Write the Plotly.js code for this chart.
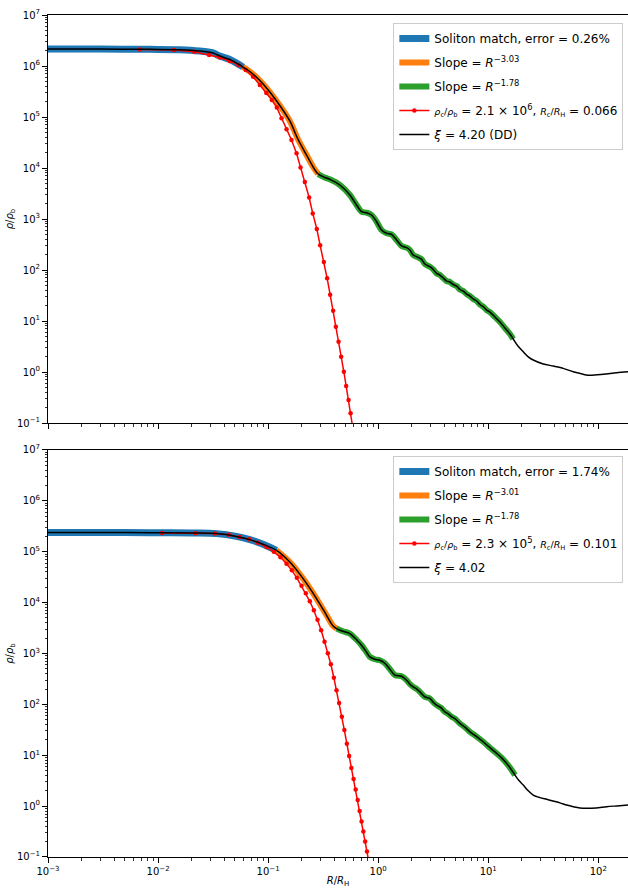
<!DOCTYPE html>
<html><head><meta charset="utf-8">
<script src="https://cdn.plot.ly/plotly-3.0.1.min.js"></script>
<style>html,body{margin:0;padding:0;background:#fff}#chart{width:628px;height:888px}</style>
</head><body><div id="chart"></div>
<script>
// ---------- DATA ----------
// Top panel: simulation profile (xi = 4.20, DD)
const topR = [0.001,0.00295,0.00841,0.01575,0.02393,0.03162,0.03638,0.04485,0.05534,0.0593,0.06823,0.08411,0.1036,0.1277,0.1574,0.1862,0.2234,0.2566,0.2848,0.3277,0.3639,0.4487,0.5534,0.6362,0.7065,0.7843,0.8710,0.9670,1.074,1.192,1.324,1.470,1.632,1.812,1.942,2.081,2.310,2.480,2.658,2.951,3.162,3.395,3.639,3.899,4.187,4.486,4.807,5.162,5.531,5.927,6.364,6.819,7.306,7.845,8.406,9.006,9.672,10.36,11.51,12.78,14.19,15.75,16.88,18.62,20.81,22.96,25.65,31.62,38.99,48.07,59.27,73.04,84.06,111.1,147.0,186.2];
const topRho = [2.15e6,2.15e6,2.12e6,2.09e6,1.97e6,1.80e6,1.57e6,1.34e6,1.047e6,9.51e5,7.80e5,5.20e5,3.09e5,1.68e5,8.36e4,3.71e4,1.80e4,1.047e4,7621,6516,5998,4645,2958,1884,1390,1330,1197,885,608,525,501,387,296,274,247,197,177,162,131,116,103,86.1,79.8,69.7,60.8,58.2,52.0,48.5,41.5,38.7,33.8,30.9,27.0,24.7,21.1,19.2,16.4,15.0,12.0,9.55,7.29,5.56,4.44,3.24,2.50,2.01,1.72,1.44,1.31,1.18,1.01,0.902,0.861,0.902,0.968,1.01];
// Top panel: soliton fit (markers)
const topSolR = [0.00682,0.01398,0.02134,0.02908,0.03638,0.04485,0.05381,0.06270,0.07304,0.08404,0.09629,0.10805,0.11997,0.13237,0.14696,0.16318,0.18121,0.19702,0.21564,0.23593,0.25439,0.27712,0.29703,0.32093,0.34390,0.36612,0.38986,0.41258,0.43652,0.46094,0.48776,0.51180,0.53815,0.56120,0.58643];
const topSolRho = [2.10e6,2.07e6,1.90e6,1.64e6,1.47e6,1.25e6,1.05e6,8.36e5,6.17e5,4.24e5,2.96e5,2.15e5,1.53e5,9.42e4,5.74e4,3.54e4,1.94e4,1.02e4,5310,2640,1290,637,305,143,68.7,32.8,15.9,7.73,3.93,2.0,1.01,0.531,0.282,0.155,0.0836];
// Top panel: fitted ranges (soliton | inner slope | outer slope)
const topBlueEnd = 0.0593, topOrangeEnd = 0.2848, topGreenEnd = 16.88;
const topNames = ['Soliton match, error = 0.26%','Slope = <i>R</i><sup>−3.03</sup>','Slope = <i>R</i><sup>−1.78</sup>',
  '<span style="font-size:9.5px"><i>ρ</i><sub>c</sub>/<i>ρ</i><sub>b</sub></span> = 2.1 × 10<sup>6</sup>, <span style="font-size:9.5px"><i>R</i><sub>c</sub>/<i>R</i><sub>H</sub></span> = 0.066','<i>ξ</i> = 4.20 (DD)'];

// Bottom panel: simulation profile (xi = 4.02)
const botR = [0.001,0.00295,0.00841,0.0208,0.03397,0.05161,0.0682,0.09005,0.1192,0.1575,0.2080,0.2754,0.3397,0.3876,0.4184,0.4776,0.5531,0.6362,0.7065,0.7843,0.8404,0.9333,1.036,1.151,1.278,1.419,1.632,1.812,1.942,2.081,2.248,2.394,2.658,2.951,3.162,3.395,3.715,4.040,4.302,4.649,4.981,5.531,6.141,6.819,7.731,9.006,10.36,11.92,13.32,14.70,16.09,17.49,19.02,20.81,22.96,25.65,29.51,33.96,38.73,44.86,51.62,59.27,68.18,78.45,95.3,119.2,147.9,186.2];
const botRho = [2.40e5,2.40e5,2.37e5,2.33e5,2.27e5,2.00e5,1.73e5,1.40e5,1.065e5,6.27e4,2.96e4,1.20e4,5640,3510,3090,2735,2466,1862,1452,1059,857,771,738,644,491,374,358,299,249,221,199,176,140,131,110,96.4,86.1,71.3,65.6,56.9,52.4,42.2,35.6,28.8,23.8,18.4,14.1,10.9,8.79,6.92,5.35,4.07,3.18,2.59,2.02,1.65,1.47,1.36,1.26,1.16,1.05,0.973,0.917,0.904,0.917,0.973,1.01,1.05];
const botSolR = [0.01088,0.02188,0.03278,0.04393,0.05531,0.06718,0.08111,0.09671,0.1127,0.1296,0.1470,0.1642,0.1824,0.2012,0.2202,0.2393,0.2603,0.2812,0.3033,0.3256,0.3489,0.3715,0.3957,0.4184,0.4418,0.4677,0.4928,0.5194,0.5448,0.5705,0.5974,0.6243,0.6513,0.6789,0.7065,0.7336,0.7618,0.7910,0.8231];
const botSolRho = [2.33e5,2.31e5,2.27e5,2.16e5,1.94e5,1.75e5,1.51e5,1.236e5,9.95e4,7.76e4,5.78e4,4.31e4,3.07e4,2.14e4,1.52e4,1.06e4,7080,4610,2870,1700,1012,615,334,190,106,57.4,31.2,16.9,9.62,5.60,3.40,2.12,1.32,0.80,0.498,0.317,0.202,0.128,0.0798];
const botBlueEnd = 0.1192, botOrangeEnd = 0.4184, botGreenEnd = 17.49;
const botNames = ['Soliton match, error = 1.74%','Slope = <i>R</i><sup>−3.01</sup>','Slope = <i>R</i><sup>−1.78</sup>',
  '<span style="font-size:9.5px"><i>ρ</i><sub>c</sub>/<i>ρ</i><sub>b</sub></span> = 2.3 × 10<sup>5</sup>, <span style="font-size:9.5px"><i>R</i><sub>c</sub>/<i>R</i><sub>H</sub></span> = 0.101','<i>ξ</i> = 4.02'];

// Tick labels
const yTickVals = [1e-1,1e0,1e1,1e2,1e3,1e4,1e5,1e6,1e7];
const yTickText = ['10<sup>−1</sup>','10<sup>0</sup>','10<sup>1</sup>','10<sup>2</sup>','10<sup>3</sup>','10<sup>4</sup>','10<sup>5</sup>','10<sup>6</sup>','10<sup>7</sup>'];
const xTickVals = [1e-3,1e-2,1e-1,1e0,1e1,1e2];
const xTickText = ['10<sup>−3</sup>','10<sup>−2</sup>','10<sup>−1</sup>','10<sup>0</sup>','10<sup>1</sup>','10<sup>2</sup>'];

// ---------- BUILD ----------
function seg(xs, ys, lo, hi){
  const X=[],Y=[];
  for(let i=0;i<xs.length;i++){ if(xs[i]>=lo && xs[i]<=hi){X.push(xs[i]);Y.push(ys[i]);} }
  return {x:X,y:Y};
}
function minorVals(lo, hi){
  const v=[];
  for(let e=lo;e<hi;e++){ for(let m=2;m<=9;m++){ v.push(m*Math.pow(10,e)); } }
  return v;
}
const C = {blue:'#1f77b4', orange:'#ff7f0e', green:'#2ca02c', red:'#ff0000', black:'#000000'};

function panelTraces(R, Rho, SR, SRho, bEnd, oEnd, gEnd, names, xa, ya, leg){
  const b = seg(R,Rho,0,bEnd), o = seg(R,Rho,bEnd,oEnd), g = seg(R,Rho,oEnd,gEnd);
  const common = {xaxis:xa, yaxis:ya, legend:leg, hoverinfo:'skip'};
  const sp = {shape:'spline', smoothing:0.8};
  return [
    Object.assign({x:b.x,y:b.y,mode:'lines',name:names[0],legendgroup:leg+'a',line:Object.assign({color:C.blue,width:7},sp)},common),
    Object.assign({x:o.x,y:o.y,mode:'lines',name:names[1],legendgroup:leg+'b',line:Object.assign({color:C.orange,width:6},sp)},common),
    Object.assign({x:g.x,y:g.y,mode:'lines',name:names[2],legendgroup:leg+'c',line:Object.assign({color:C.green,width:6},sp)},common),
    Object.assign({x:SR,y:SRho,mode:'lines+markers',name:names[3],legendgroup:leg+'d',line:{color:C.red,width:1.5},marker:{color:C.red,size:4.5,symbol:'circle'}},common),
    Object.assign({x:R,y:Rho,mode:'lines',name:names[4],legendgroup:leg+'e',line:Object.assign({color:C.black,width:1.5},sp)},common)
  ];
}

const data = [].concat(
  panelTraces(topR,topRho,topSolR,topSolRho,topBlueEnd,topOrangeEnd,topGreenEnd,topNames,'x','y','legend'),
  panelTraces(botR,botRho,botSolR,botSolRho,botBlueEnd,botOrangeEnd,botGreenEnd,botNames,'x2','y2','legend2')
);

const tickFont = {family:'DejaVu Sans, sans-serif', size:10, color:'#000'};
function xAxis(anchor, showLabels){
  const a = {type:'log', range:[-3,2.27], domain:[0,1], anchor:anchor, showline:true, linecolor:'#000', linewidth:1, mirror:true,
    ticks:'outside', ticklen:5, tickwidth:1, tickcolor:'#000', tickmode:'array', tickvals:xTickVals, ticktext:xTickText,
    showticklabels:showLabels, tickfont:tickFont, showgrid:false, zeroline:false, automargin:false,
    minor:{ticks:'outside', ticklen:2.5, tickwidth:0.8, tickcolor:'#000', tickmode:'array', tickvals:minorVals(-3,3), showgrid:false}};
  if(showLabels){ a.title = {text:'<i>R</i>/<i>R</i><sub>H</sub>', font:{family:'DejaVu Sans, sans-serif', size:10, color:'#000'}, standoff:3}; }
  return a;
}
function yAxis(anchor, dom){
  return {type:'log', range:[-1,7], domain:dom, anchor:anchor, showline:true, linecolor:'#000', linewidth:1, mirror:false,
    ticks:'outside', ticklen:5, tickwidth:1, tickcolor:'#000', tickmode:'array', tickvals:yTickVals, ticktext:yTickText,
    tickfont:tickFont, showgrid:false, zeroline:false, automargin:false,
    title:{text:'<i>ρ</i>/<i>ρ</i><sub>b</sub>', font:{family:'DejaVu Sans, sans-serif', size:10, color:'#000'}, standoff:1},
    minor:{ticks:'outside', ticklen:2.5, tickwidth:0.8, tickcolor:'#000', tickmode:'array', tickvals:minorVals(-1,7), showgrid:false}};
}
const legStyle = {xanchor:'right', yanchor:'top', bgcolor:'rgba(255,255,255,0.8)', bordercolor:'#cccccc', borderwidth:1,
  font:{family:'DejaVu Sans, sans-serif', size:12, color:'#000'}, itemwidth:30, tracegroupgap:5};

const layout = {
  width:628, height:888, margin:{l:48, r:0, t:15, b:31},
  paper_bgcolor:'#fff', plot_bgcolor:'#fff', showlegend:true,
  font:{family:'DejaVu Sans, sans-serif', color:'#000'},
  xaxis: xAxis('y', false),
  yaxis: yAxis('x', [0.5154,1]),
  xaxis2: xAxis('y2', true),
  yaxis2: yAxis('x2', [0,0.4834]),
  legend: Object.assign({x:0.992, y:0.9905}, legStyle),
  legend2: Object.assign({x:0.992, y:0.4762}, legStyle)
};
Plotly.newPlot('chart', data, layout, {displayModeBar:false, staticPlot:true});
</script></body></html>
